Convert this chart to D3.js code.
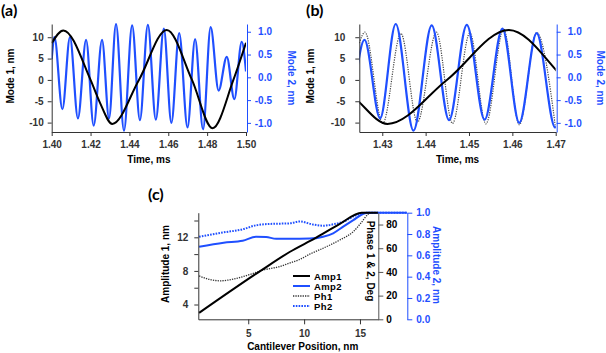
<!DOCTYPE html>
<html>
<head>
<meta charset="utf-8">
<script src="https://cdn.jsdelivr.net/npm/d3@7"></script>
<style>
  body { margin: 0; background: #fff; }
  svg { display: block; }
</style>
</head>
<body>
<div id="root"></div>
<script>
// panels (a) and (b): time traces (extrema + crossings)
var mode1Time = [1.4000, 1.4060, 1.4200, 1.4247, 1.4312, 1.4449, 1.4592, 1.4722, 1.4828, 1.4935, 1.5000];
var mode1Amp  = [8.6, 11.6, 0, -5.2, -10.3, 0, 11.7, 0, -11.3, 0, 8.7];

var mode2Time = [1.4000, 1.4014, 1.4055, 1.4094, 1.4135, 1.4177, 1.4216, 1.4259, 1.4295, 1.4331,
                 1.4372, 1.4414, 1.4454, 1.4495, 1.4536, 1.4577, 1.4616, 1.4656, 1.4699, 1.4738,
                 1.4779, 1.4818, 1.4859, 1.4901, 1.4940, 1.4978, 1.5000];
var mode2Amp  = [0.40, 0.88, -0.70, 0.88, -0.90, 0.82, -1.06, 0.82, -0.90, 1.17,
                 -1.17, 1.14, -0.94, 1.15, -0.93, 1.07, -1.00, 0.97, -1.10, 0.84,
                 -1.14, 1.10, -0.29, 0.45, -0.48, 0.78, 0.13];

var fitTime = [1.4247, 1.4260, 1.4301, 1.4343, 1.4381, 1.4425, 1.4462, 1.4502, 1.4539, 1.4580, 1.4616, 1.4656, 1.4700];
var fitAmp  = [0.75, 0.99, -1.01, 0.96, -0.98, 0.99, -1.01, 0.97, -1.02, 1.06, -1.04, 0.98, -1.13];

var timeTicksA = [1.40, 1.42, 1.44, 1.46, 1.48, 1.50];
var timeTicksB = [1.43, 1.44, 1.45, 1.46, 1.47];
var mode1Ticks = [-10, -5, 0, 5, 10];
var mode2Ticks = [-1, -0.5, 0, 0.5, 1];

// panel (c): sweep along the cantilever
var amp1Pos = [0.6, 6.2, 8.7, 11.0, 13.2, 15.15, 16.6];
var amp1Val = [3.0, 8.1, 10.25, 11.9, 13.6, 14.93, 14.93];

var amp2Pos = [0.6, 2.8, 4.5, 5.7, 6.6, 7.5, 8.7, 10.5, 11.7, 12.6, 13.5, 14.4, 15.3, 15.7, 19.2];
var amp2Val = [0.681, 0.719, 0.737, 0.775, 0.772, 0.755, 0.755, 0.757, 0.775, 0.807, 0.869, 0.93, 0.99, 1.0, 1.0];

var ph1Pos = [0.6, 1.6, 2.5, 3.7, 5.2, 6.3, 7.8, 8.7, 9.6, 10.5, 11.7, 13.2, 14.4, 15.15, 15.7, 16.1, 16.6];
var ph1Val = [36.6, 33.5, 32.5, 34, 38, 41.5, 44.5, 47.5, 50.5, 55, 60, 67, 74, 82, 88.5, 90, 90];

var ph2Pos = [0.6, 2.8, 4.5, 5.7, 6.9, 8.7, 9.6, 10.8, 11.7, 12.6, 13.5, 14.7, 15.6, 19.2];
var ph2Val = [69.7, 73.4, 76, 79.4, 80.5, 81, 82.6, 80, 79, 80.2, 82.4, 88, 90, 90];

var posTicks = [5, 10, 15];
var amp1Ticks = [4, 6, 8, 10, 12, 14];
var phaseTicks = [0, 20, 40, 60, 80];
var amp2Ticks = [0, 0.2, 0.4, 0.6, 0.8, 1.0];

var legendNames = ['Amp1', 'Amp2', 'Ph1', 'Ph2'];

var blue = '#1f4fff';
var axisGray = '#333';
var font = "'Liberation Sans', Arial, sans-serif";

var svg = d3.select('#root')
  .append('svg')
    .attr('width', 606)
    .attr('height', 353)
    .attr('font-family', font);

var pairs = (xs, ys) => xs.map((v, i) => [v, ys[i]]);

var styleAxis = (g, color) => {
  g.attr('font-family', font)
    .attr('font-size', 10)
    .attr('font-weight', 'bold');
  g.select('.domain').attr('stroke', color).attr('stroke-width', 1);
  g.selectAll('.tick line').attr('stroke', color);
  g.selectAll('.tick text').attr('fill', color);
};

var title = (x, y, rot, txt, color) => {
  svg.append('text')
    .attr('transform', 'translate(' + x + ',' + y + ') rotate(' + rot + ')')
    .attr('text-anchor', 'middle')
    .attr('font-size', 10)
    .attr('font-weight', 'bold')
    .attr('fill', color || '#000')
    .text(txt);
};

var panelLabel = (x, y, txt) => {
  svg.append('text')
    .attr('x', x)
    .attr('y', y)
    .attr('font-family', 'Lato, sans-serif')
    .attr('font-size', 16)
    .attr('font-weight', 'bold')
    .text(txt);
};

var drawWavePanel = cfg => {
  var top = 24, bottom = 132;
  var x = d3.scaleLinear().domain(cfg.tDomain).range([cfg.left, cfg.right]);
  var yL = d3.scaleLinear().domain([-12.2, 13.1]).range([bottom, top]);
  var yR = d3.scaleLinear().domain([-1.2, 1.17]).range([bottom, top]);

  svg.append('clipPath')
    .attr('id', cfg.id)
    .append('rect')
      .attr('x', cfg.left)
      .attr('y', 0)
      .attr('width', cfg.right - cfg.left)
      .attr('height', 160);

  var g = svg.append('g').attr('clip-path', 'url(#' + cfg.id + ')');

  var lineR = d3.line().x(d => x(d[0])).y(d => yR(d[1])).curve(d3.curveMonotoneX);
  var lineL = d3.line().x(d => x(d[0])).y(d => yL(d[1])).curve(d3.curveMonotoneX);

  if (cfg.fit) {
    g.append('path')
      .attr('d', lineR(pairs(fitTime, fitAmp)))
      .attr('fill', 'none')
      .attr('stroke', '#444')
      .attr('stroke-width', 1.2)
      .attr('stroke-dasharray', '1.2,1.2');
  }

  g.append('path')
    .attr('d', lineR(pairs(mode2Time, mode2Amp)))
    .attr('fill', 'none')
    .attr('stroke', blue)
    .attr('stroke-width', 2.2);

  g.append('path')
    .attr('d', lineL(pairs(mode1Time, mode1Amp)))
    .attr('fill', 'none')
    .attr('stroke', '#000')
    .attr('stroke-width', 2);

  var xAxis = svg.append('g')
    .attr('transform', 'translate(0,' + bottom + ')')
    .call(d3.axisBottom(x).tickValues(cfg.ticks).tickFormat(d => d.toFixed(2))
      .tickSize(4).tickSizeOuter(0).tickPadding(5));
  styleAxis(xAxis, axisGray);

  var leftAxis = svg.append('g')
    .attr('transform', 'translate(' + cfg.left + ',0)')
    .call(d3.axisLeft(yL).tickValues(mode1Ticks).tickFormat(d => d)
      .tickSize(4).tickSizeOuter(0).tickPadding(cfg.leftPad));
  styleAxis(leftAxis, axisGray);

  var rightAxis = svg.append('g')
    .attr('transform', 'translate(' + (cfg.right + 1) + ',0)')
    .call(d3.axisRight(yR).tickValues(mode2Ticks).tickFormat(d => d.toFixed(1))
      .tickSize(4).tickSizeOuter(0));
  styleAxis(rightAxis, blue);
  rightAxis.selectAll('.tick text')
    .attr('text-anchor', 'end')
    .attr('x', 25);

  title((cfg.left + cfg.right) / 2, 163, 0, 'Time, ms');
  title(cfg.left - cfg.mode1Off, 76, -90, 'Mode 1, nm');
  title(cfg.right + cfg.mode2Off, 78, 90, 'Mode 2, nm', blue);
};

drawWavePanel({ id: 'clipA', left: 51.7, right: 246, tDomain: [1.40, 1.50], ticks: timeTicksA,
  leftPad: 4, mode1Off: 38, mode2Off: 41.5 });
drawWavePanel({ id: 'clipB', left: 359.3, right: 555.7, tDomain: [1.4247, 1.47], ticks: timeTicksB,
  fit: true, leftPad: 10, mode1Off: 45, mode2Off: 41 });

panelLabel(1, 16, '(a)');
panelLabel(306, 16, '(b)');
panelLabel(148, 200, '(c)');

// panel (c)
var cTop = 212.7, cBottom = 319.3;
var xc = d3.scaleLinear().domain([0.53, 16.64]).range([198.3, 378.3]);
var yAmp1 = d3.scaleLinear().domain([2.24, 14.93]).range([cBottom, cTop]);
var yPhase = d3.scaleLinear().domain([0, 90]).range([cBottom, cTop]);
var yAmp2 = d3.scaleLinear().domain([0, 1]).range([cBottom, cTop]);

var cLine = y => d3.line().x(d => xc(d[0])).y(d => y(d[1])).curve(d3.curveMonotoneX);

var series = [
  { data: pairs(ph1Pos, ph1Val), y: yPhase, color: '#333', width: 1.3, dash: '1.3,1.1' },
  { data: pairs(ph2Pos, ph2Val), y: yPhase, color: blue, width: 2, dash: '1.6,1.2' },
  { data: pairs(amp2Pos, amp2Val), y: yAmp2, color: blue, width: 2, dash: null },
  { data: pairs(amp1Pos, amp1Val), y: yAmp1, color: '#000', width: 2, dash: null }
];

series.forEach(s => {
  svg.append('path')
    .attr('d', cLine(s.y)(s.data))
    .attr('fill', 'none')
    .attr('stroke', s.color)
    .attr('stroke-width', s.width)
    .attr('stroke-dasharray', s.dash);
});

var cx = svg.append('g')
  .attr('transform', 'translate(0,' + cBottom + ')')
  .call(d3.axisBottom(xc).tickValues(posTicks).tickFormat(d => d)
    .tickSize(5).tickSizeOuter(0).tickPadding(6));
styleAxis(cx, axisGray);

var cLeft = svg.append('g')
  .attr('transform', 'translate(198.3,0)')
  .call(d3.axisLeft(yAmp1).tickValues(amp1Ticks).tickFormat(d => d % 4 === 0 ? d : '')
    .tickSize(4).tickSizeOuter(0).tickPadding(6));
styleAxis(cLeft, axisGray);

var cPhase = svg.append('g')
  .attr('transform', 'translate(378.3,0)')
  .call(d3.axisRight(yPhase).tickValues(phaseTicks).tickFormat(d => d)
    .tickSize(5).tickSizeOuter(0).tickPadding(3));
styleAxis(cPhase, '#555');
cPhase.selectAll('.tick text').attr('fill', '#000');

var cAmp2 = svg.append('g')
  .attr('transform', 'translate(407.3,0)')
  .call(d3.axisRight(yAmp2).tickValues(amp2Ticks).tickFormat(d => d.toFixed(1))
    .tickSize(5).tickSizeOuter(0).tickPadding(4));
styleAxis(cAmp2, blue);

title(302.7, 350, 0, 'Cantilever Position, nm');
title(169.4, 264, -90, 'Amplitude 1, nm');
title(366.7, 261, 90, 'Phase 1 & 2, Deg');
title(433.4, 265, 90, 'Amplitude 2, nm', blue);

// legend
var legendStyle = [series[3], series[2], series[0], series[1]];
var legend = svg.append('g').attr('transform', 'translate(293,276)');
legendNames.forEach((name, i) => {
  var s = legendStyle[i];
  legend.append('line')
    .attr('x1', 0).attr('x2', 17)
    .attr('y1', i * 10).attr('y2', i * 10)
    .attr('stroke', s.color)
    .attr('stroke-width', s.width)
    .attr('stroke-dasharray', s.dash);
  legend.append('text')
    .attr('x', 21)
    .attr('y', i * 10 + 3.5)
    .attr('font-size', 9.5)
    .attr('font-weight', 'bold')
    .attr('letter-spacing', 0.4)
    .text(name);
});
</script>
</body>
</html>
